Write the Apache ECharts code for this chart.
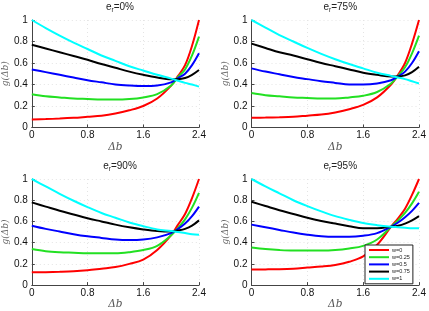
<!DOCTYPE html>
<html>
<head>
<meta charset="utf-8">
<script src="https://cdn.jsdelivr.net/npm/echarts@6/dist/echarts.min.js"></script>
<style>
  html, body { margin: 0; padding: 0; background: #fff; }
  #chart { width: 429px; height: 311px; }
</style>
</head>
<body>
<div id="chart"></div>
<script>
// delta b sample points
const xs = [0, 0.2, 0.4, 0.6, 0.8, 1.0, 1.2, 1.4, 1.6, 1.8, 2.0, 2.1, 2.2, 2.3, 2.4];
const names = ['w=0', 'w=0.25', 'w=0.5', 'w=0.75', 'w=1'];
const colors = ['#ff0000', '#22e022', '#0000ff', '#000000', '#00ffff'];
const panelTitles = ['0%', '75%', '90%', '95%'];

// e_r = 0%
const er0 = [
  [0.075, 0.078, 0.083, 0.09, 0.10, 0.11, 0.13, 0.16, 0.20, 0.27, 0.39, 0.48, 0.58, 0.76, 1.0],
  [0.31, 0.29, 0.28, 0.27, 0.265, 0.26, 0.26, 0.265, 0.28, 0.31, 0.39, 0.47, 0.54, 0.67, 0.845],
  [0.54, 0.515, 0.49, 0.465, 0.44, 0.42, 0.40, 0.39, 0.385, 0.39, 0.42, 0.46, 0.50, 0.58, 0.69],
  [0.77, 0.735, 0.70, 0.665, 0.63, 0.59, 0.555, 0.52, 0.49, 0.465, 0.45, 0.45, 0.46, 0.49, 0.535],
  [1.0, 0.925, 0.855, 0.79, 0.73, 0.67, 0.62, 0.57, 0.53, 0.49, 0.455, 0.435, 0.415, 0.40, 0.38]
];
// e_r = 75%
const er75 = [
  [0.09, 0.092, 0.095, 0.10, 0.11, 0.12, 0.14, 0.17, 0.21, 0.28, 0.40, 0.49, 0.60, 0.78, 1.0],
  [0.32, 0.30, 0.29, 0.28, 0.275, 0.27, 0.27, 0.28, 0.295, 0.33, 0.41, 0.48, 0.56, 0.69, 0.855],
  [0.55, 0.52, 0.495, 0.47, 0.45, 0.43, 0.415, 0.40, 0.40, 0.41, 0.44, 0.475, 0.52, 0.60, 0.71],
  [0.78, 0.74, 0.70, 0.67, 0.635, 0.60, 0.57, 0.54, 0.51, 0.49, 0.475, 0.475, 0.485, 0.515, 0.565],
  [1.0, 0.93, 0.86, 0.80, 0.74, 0.685, 0.635, 0.59, 0.55, 0.51, 0.48, 0.465, 0.45, 0.43, 0.41]
];
// e_r = 90%
const er90 = [
  [0.12, 0.122, 0.125, 0.13, 0.14, 0.155, 0.17, 0.20, 0.24, 0.33, 0.47, 0.57, 0.67, 0.82, 1.0],
  [0.34, 0.32, 0.31, 0.305, 0.30, 0.30, 0.30, 0.31, 0.33, 0.37, 0.47, 0.54, 0.62, 0.73, 0.87],
  [0.56, 0.53, 0.505, 0.48, 0.46, 0.445, 0.43, 0.425, 0.43, 0.45, 0.49, 0.53, 0.58, 0.65, 0.74],
  [0.78, 0.74, 0.70, 0.665, 0.63, 0.60, 0.57, 0.545, 0.525, 0.51, 0.505, 0.515, 0.53, 0.56, 0.61],
  [1.0, 0.93, 0.86, 0.795, 0.735, 0.68, 0.635, 0.59, 0.555, 0.525, 0.51, 0.50, 0.49, 0.48, 0.475]
];
// e_r = 95%
const er95 = [
  [0.147, 0.148, 0.15, 0.155, 0.165, 0.175, 0.19, 0.22, 0.27, 0.38, 0.55, 0.63, 0.72, 0.85, 1.0],
  [0.355, 0.34, 0.33, 0.325, 0.325, 0.325, 0.33, 0.345, 0.37, 0.43, 0.55, 0.61, 0.68, 0.77, 0.88],
  [0.57, 0.545, 0.52, 0.495, 0.475, 0.46, 0.455, 0.455, 0.465, 0.49, 0.55, 0.59, 0.64, 0.70, 0.775],
  [0.785, 0.745, 0.705, 0.67, 0.635, 0.605, 0.58, 0.555, 0.535, 0.535, 0.55, 0.56, 0.58, 0.61, 0.65],
  [1.0, 0.93, 0.865, 0.80, 0.745, 0.695, 0.65, 0.615, 0.585, 0.565, 0.55, 0.545, 0.54, 0.535, 0.535]
];
const panels = [er0, er75, er90, er95];

const gridPos = [
  {left: 31, top: 20, width: 168, height: 107.5},
  {left: 251.5, top: 20, width: 167.5, height: 107.5},
  {left: 31, top: 179, width: 168, height: 108.5},
  {left: 251.5, top: 179, width: 167.5, height: 108.5}
];

const chart = echarts.init(document.getElementById('chart'));

const grids = [], xAxes = [], yAxes = [], titles = [], series = [];
gridPos.forEach((g, i) => {
  grids.push(Object.assign({}, g));
  titles.push({
    text: '{a|e}{b|r}{a|=' + panelTitles[i] + '}',
    left: g.left + g.width / 2,
    top: g.top - 24,
    textAlign: 'center',
    textStyle: {
      fontWeight: 'normal',
      rich: {
        a: {fontSize: 10, fontFamily: 'Liberation Sans', color: '#222', fontWeight: 'normal'},
        b: {fontSize: 6.5, fontFamily: 'Liberation Sans', color: '#222', fontWeight: 'normal', padding: [6, 0, 0, 0]}
      }
    }
  });
  xAxes.push({
    type: 'value', gridIndex: i, min: 0, max: 2.4, interval: 0.8,
    name: 'Δb', nameLocation: 'middle', nameGap: 13,
    nameTextStyle: {fontFamily: 'DejaVu Serif', fontStyle: 'italic', fontSize: 10.5, color: '#555'},
    axisLine: {show: true, lineStyle: {color: '#444'}},
    axisTick: {show: true, inside: true, length: 3, lineStyle: {color: '#444'}},
    axisLabel: {fontSize: 10, fontFamily: 'Liberation Sans', color: '#111', margin: 3},
    splitLine: {show: true, lineStyle: {color: '#e4e4e4', type: [1, 3]}}
  });
  yAxes.push({
    type: 'value', gridIndex: i, min: 0, max: 1, interval: 0.2,
    name: 'g(Δb)', nameLocation: 'middle', nameGap: 21,
    nameTextStyle: {fontFamily: 'DejaVu Serif', fontStyle: 'italic', fontSize: 9, color: '#666'},
    axisLine: {show: true, lineStyle: {color: '#444'}},
    axisTick: {show: true, inside: true, length: 3, lineStyle: {color: '#444'}},
    axisLabel: {fontSize: 10, fontFamily: 'Liberation Sans', color: '#111', margin: 4},
    splitLine: {show: true, lineStyle: {color: '#e4e4e4', type: [1, 3]}}
  });
  panels[i].forEach((vals, k) => {
    series.push({
      type: 'line', name: names[k], xAxisIndex: i, yAxisIndex: i,
      data: xs.map((x, j) => [x, vals[j]]),
      smooth: 0.35, showSymbol: false, symbol: 'none',
      lineStyle: {color: colors[k], width: 2},
      itemStyle: {color: colors[k]},
      silent: true, animation: false
    });
  });
});

chart.setOption({
  animation: false,
  title: titles,
  grid: grids,
  xAxis: xAxes,
  yAxis: yAxes,
  legend: {
    data: names,
    orient: 'vertical',
    left: 365, top: 245,
    width: 51,
    itemWidth: 20, itemHeight: 2, itemGap: 1.2,
    icon: 'rect',
    padding: [2, 3, 2, 4],
    backgroundColor: '#fff',
    borderColor: '#222', borderWidth: 1,
    textStyle: {fontSize: 5.5, lineHeight: 6, fontFamily: 'Liberation Sans', color: '#222', padding: [0, 0, 0, -2]},
    selectedMode: false
  },
  series: series
});
</script>
</body>
</html>
